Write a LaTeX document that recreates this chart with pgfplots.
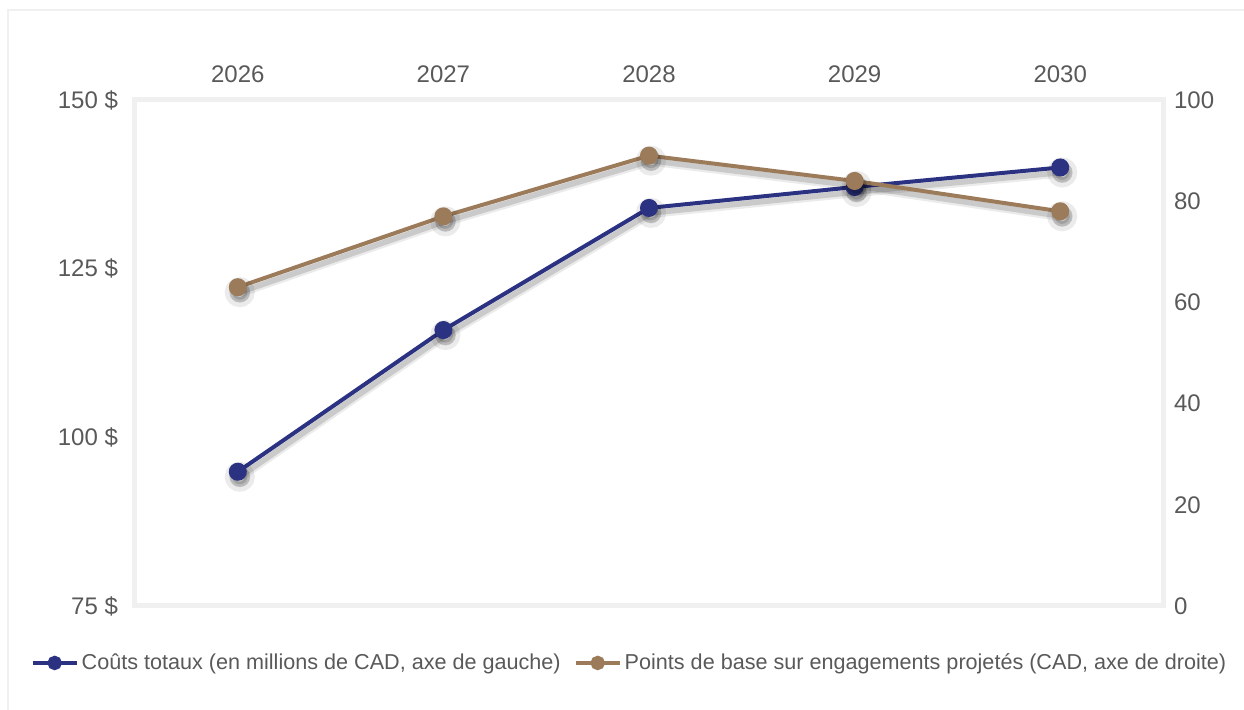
\documentclass[border=0pt]{standalone}
\usepackage{fontspec}
\setmainfont{Liberation Sans}
\usepackage{pgfplots}
\pgfplotsset{compat=1.18}
\definecolor{cblue}{RGB}{44,50,130}
\definecolor{cbrown}{RGB}{156,123,90}
\definecolor{ctext}{RGB}{89,89,89}
\definecolor{cgrid}{RGB}{240,240,240}
\begin{document}
\begin{tikzpicture}[x=1pt,y=1pt]
\path[use as bounding box] (0,0) rectangle (622,355);
\draw[cgrid,line width=1.2pt] (4,0) -- (4,350) -- (622,350);
\pgfplotsset{
  base/.style={
    scale only axis, width=514pt, height=253pt,
    at={(67.5pt,52pt)}, anchor=south west,
    xmin=-0.5, xmax=4.5,
    tick style={draw=none},
    tick label style={font=\fontsize{12}{14}\selectfont, text=ctext},
    /pgf/number format/assume math mode=true,
    axis line style={cgrid, line width=2.5pt},
  },
  shadowA/.style={black, opacity=0.08, line width=5pt, mark=*, mark size=5pt, mark options={black}, xshift=1pt, yshift=-2.5pt},
  shadowB/.style={black, opacity=0.14, line width=2.8pt, mark=*, mark size=3.8pt, mark options={black}, xshift=1pt, yshift=-2.5pt},
}
\begin{axis}[base,
  xticklabel pos=upper, yticklabel pos=left,
  xtick={0,1,2,3,4},
  xticklabels={2026,2027,2028,2029,2030},
  xticklabel style={yshift=5pt},
  ymin=75, ymax=150, ytick={75,100,125,150},
  yticklabels={75 \$,100 \$,125 \$,150 \$},
  yticklabel style={xshift=-5pt},
  legend style={draw=none, fill=none, at={(0.4815,-0.1126)}, anchor=center,
    font=\fontsize{10.8}{13}\selectfont, text=ctext,
    /tikz/every even column/.append style={column sep=5pt},
    /tikz/every node/.append style={inner xsep=1.5pt}},
  legend columns=2,
  legend image code/.code={
    \draw[#1, line width=2pt] (0pt,0pt) -- (22pt,0pt);
    \fill[#1] (11pt,0pt) circle (2.6pt);
  },
]
\addplot[shadowA, forget plot] coordinates {(0,94.9) (1,115.9) (2,134) (3,137.1) (4,140)};
\addplot[shadowB, forget plot] coordinates {(0,94.9) (1,115.9) (2,134) (3,137.1) (4,140)};
\addplot[cblue, line width=2pt, mark=*, mark size=3.5pt, mark options={cblue}]
  coordinates {(0,94.9) (1,115.9) (2,134) (3,137.1) (4,140)};
\addlegendentry{Coûts totaux (en millions de CAD, axe de gauche)}
\addlegendimage{cbrown, line width=2pt}
\addlegendentry{Points de base sur engagements projetés (CAD, axe de droite)}
\end{axis}
\begin{axis}[base,
  axis x line=none, axis y line*=right,
  ymin=0, ymax=100, ytick={0,20,40,60,80,100},
  yticklabel style={xshift=2pt},
]
\addplot[shadowA] coordinates {(0,63) (1,77) (2,89) (3,84) (4,78)};
\addplot[shadowB] coordinates {(0,63) (1,77) (2,89) (3,84) (4,78)};
\addplot[cbrown, line width=2pt, mark=*, mark size=3.5pt, mark options={cbrown}]
  coordinates {(0,63) (1,77) (2,89) (3,84) (4,78)};
\end{axis}
\end{tikzpicture}
\end{document}
